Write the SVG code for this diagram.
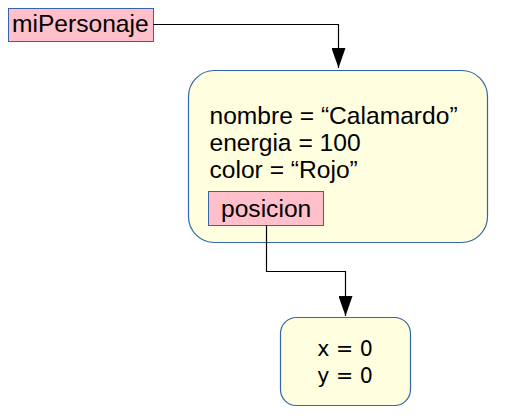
<svg xmlns="http://www.w3.org/2000/svg" width="508" height="418" viewBox="0 0 508 418">
<style>
.ref{fill:#ffc0cb;stroke:#3465a4;stroke-width:1}
.obj{fill:#ffffe0;stroke:#3465a4;stroke-width:1.2}
.t{font-family:"Liberation Sans",Arial,sans-serif;font-size:24.6px;fill:#000}
.t2{font-family:"DejaVu Sans",sans-serif;font-size:20.5px;fill:#000}
.con{fill:none;stroke:#000;stroke-width:1.2}
</style>
<defs>
<marker id="arr" markerUnits="userSpaceOnUse" markerWidth="20" markerHeight="14" refX="20" refY="7" orient="auto" viewBox="0 0 20 14">
<path d="M0,0 L20,7 L0,14 Z" fill="#000"/>
</marker>
</defs>
<g id="miPersonaje">
<rect class="ref" x="8.5" y="8.5" width="145" height="33"/>
<text class="t" x="12" y="31.5">miPersonaje</text>
</g>
<g id="personaje">
<rect class="obj" x="188.5" y="70.5" width="299" height="172" rx="26" ry="26"/>
<text class="t" x="209.5" y="123.5">nombre = “Calamardo”</text>
<text class="t" x="209.5" y="150.5">energia = 100</text>
<text class="t" x="209.5" y="177.5">color = “Rojo”</text>
</g>
<g id="posicion">
<rect class="ref" x="208.5" y="191.5" width="115" height="34"/>
<text class="t" x="221" y="216.5">posicion</text>
</g>
<g id="punto">
<rect class="obj" x="280.5" y="317.5" width="130" height="88" rx="16" ry="16"/>
<text class="t2" x="345" y="356" text-anchor="middle">x = 0</text>
<text class="t2" x="345" y="383" text-anchor="middle">y = 0</text>
</g>
<g id="connectors">
<path class="con" d="M153.5,24.5 H338.5 V68" marker-end="url(#arr)"/>
<path class="con" d="M266.5,225.5 V271.5 H345.5 V316" marker-end="url(#arr)"/>
</g>
</svg>
